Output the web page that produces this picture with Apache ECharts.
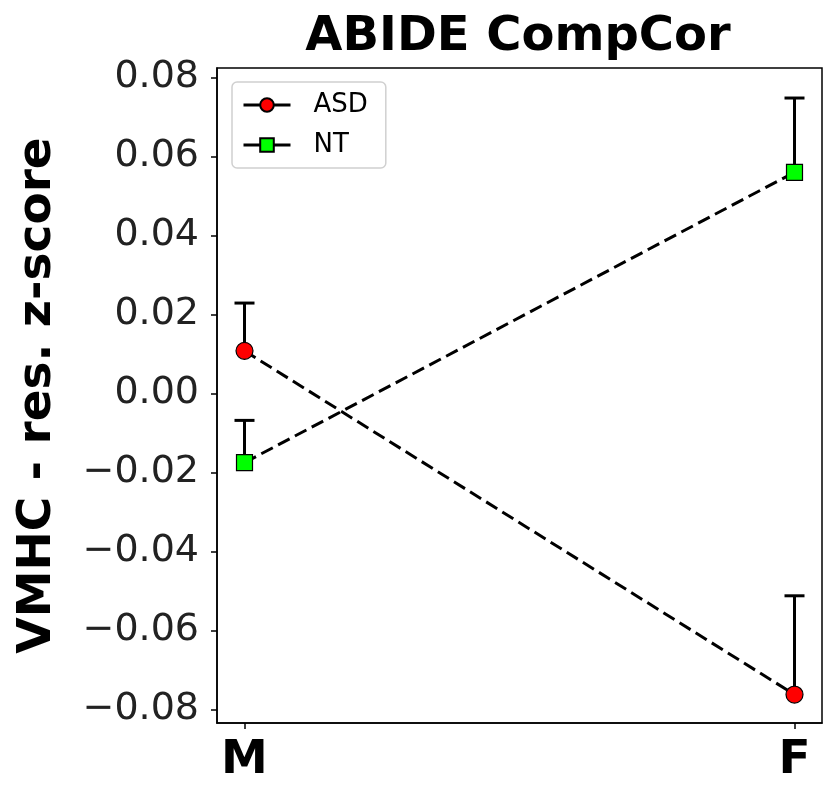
<!DOCTYPE html>
<html>
<head>
<meta charset="utf-8">
<script src="https://cdn.jsdelivr.net/npm/echarts@6/dist/echarts.min.js"></script>
<style>
  html, body { margin: 0; padding: 0; background: #fff; }
  #chart { width: 824px; height: 785px; }
</style>
</head>
<body>
<div id="chart"></div>
<script>
// groups on the x axis
const categories = ['M', 'F']
// ASD: mean and upper error
const asdMean = [0.0108, -0.0762]
const asdErr = [0.0121, 0.0250]
// NT: mean and upper error
const ntMean = [-0.0175, 0.0560]
const ntErr = [0.0107, 0.0188]
const yTicks = [-0.08, -0.06, -0.04, -0.02, 0.00, 0.02, 0.04, 0.06, 0.08]

const FONT = 'DejaVu Sans'

function points(mean) {
  return mean.map((v, i) => [i, v])
}
function errData(mean, err) {
  return mean.map((v, i) => [i, v, v + err[i]])
}

function renderErr(params, api) {
  const x = api.value(0)
  const lo = api.coord([x, api.value(1)])
  const hi = api.coord([x, api.value(2)])
  const style = { stroke: '#000', lineWidth: 3 }
  return {
    type: 'group',
    children: [
      { type: 'line', shape: { x1: lo[0], y1: lo[1], x2: hi[0], y2: hi[1] }, style: style },
      { type: 'line', shape: { x1: hi[0] - 10, y1: hi[1], x2: hi[0] + 10, y2: hi[1] }, style: style }
    ]
  }
}

const chart = echarts.init(document.getElementById('chart'))

chart.setOption({
  animation: false,
  backgroundColor: '#fff',
  title: {
    text: 'ABIDE CompCor',
    left: 513,
    textAlign: 'center',
    top: 9,
    textStyle: { fontFamily: FONT, fontWeight: 'bold', fontSize: 48, color: '#000' }
  },
  legend: {
    left: 232,
    top: 82,
    orient: 'vertical',
    data: ['ASD', 'NT'],
    itemWidth: 47,
    itemHeight: 17,
    itemGap: 14,
    padding: [10, 18, 10, 10],
    borderColor: '#d0d0d0',
    borderWidth: 1.5,
    borderRadius: 5,
    lineStyle: { type: 'solid', width: 3, color: '#000' },
    textStyle: { fontFamily: FONT, fontSize: 26, color: '#000', padding: [0, 0, 0, 18] }
  },
  grid: {
    left: 217,
    right: 2,
    top: 68,
    bottom: 62,
    show: true,
    borderColor: '#000',
    borderWidth: 1.5
  },
  xAxis: {
    type: 'value',
    min: -0.05,
    max: 1.05,
    splitLine: { show: false },
    axisLine: { onZero: false, lineStyle: { color: '#000', width: 1.5 } },
    axisTick: { length: 6, lineStyle: { color: '#000', width: 1.5 }, customValues: [0, 1] },
    axisLabel: {
      customValues: [0, 1],
      formatter: v => categories[Math.round(v)],
      fontFamily: FONT,
      fontWeight: 'bold',
      fontSize: 47,
      color: '#000',
      margin: 14
    }
  },
  yAxis: {
    type: 'value',
    min: -0.0834,
    max: 0.0824,
    name: 'VMHC - res. z-score',
    nameLocation: 'middle',
    nameRotate: 90,
    nameGap: 156,
    nameTextStyle: { fontFamily: FONT, fontWeight: 'bold', fontSize: 47, color: '#000' },
    splitLine: { show: false },
    axisLine: { show: true, onZero: false, lineStyle: { color: '#000', width: 1.5 } },
    axisTick: { show: true, length: 6, lineStyle: { color: '#000', width: 1.5 }, customValues: yTicks },
    axisLabel: {
      customValues: yTicks,
      formatter: v => (v < -1e-9 ? '\u2212' : '') + Math.abs(v).toFixed(2),
      fontFamily: FONT,
      fontSize: 38,
      color: '#222',
      margin: 18
    }
  },
  series: [
    {
      type: 'custom',
      name: 'ASDerr',
      renderItem: renderErr,
      data: errData(asdMean, asdErr),
      z: 1
    },
    {
      type: 'custom',
      name: 'NTerr',
      renderItem: renderErr,
      data: errData(ntMean, ntErr),
      z: 1
    },
    {
      type: 'line',
      name: 'ASD',
      data: points(asdMean),
      symbol: 'circle',
      symbolSize: 17,
      itemStyle: { color: '#ff0000', borderColor: '#000', borderWidth: 1.2 },
      lineStyle: { color: '#000', width: 3, type: [13, 6] },
      z: 3
    },
    {
      type: 'line',
      name: 'NT',
      data: points(ntMean),
      symbol: 'rect',
      symbolSize: 16,
      itemStyle: { color: '#00ff00', borderColor: '#000', borderWidth: 1.2 },
      lineStyle: { color: '#000', width: 3, type: [13, 6] },
      z: 3
    }
  ]
})
</script>
</body>
</html>
